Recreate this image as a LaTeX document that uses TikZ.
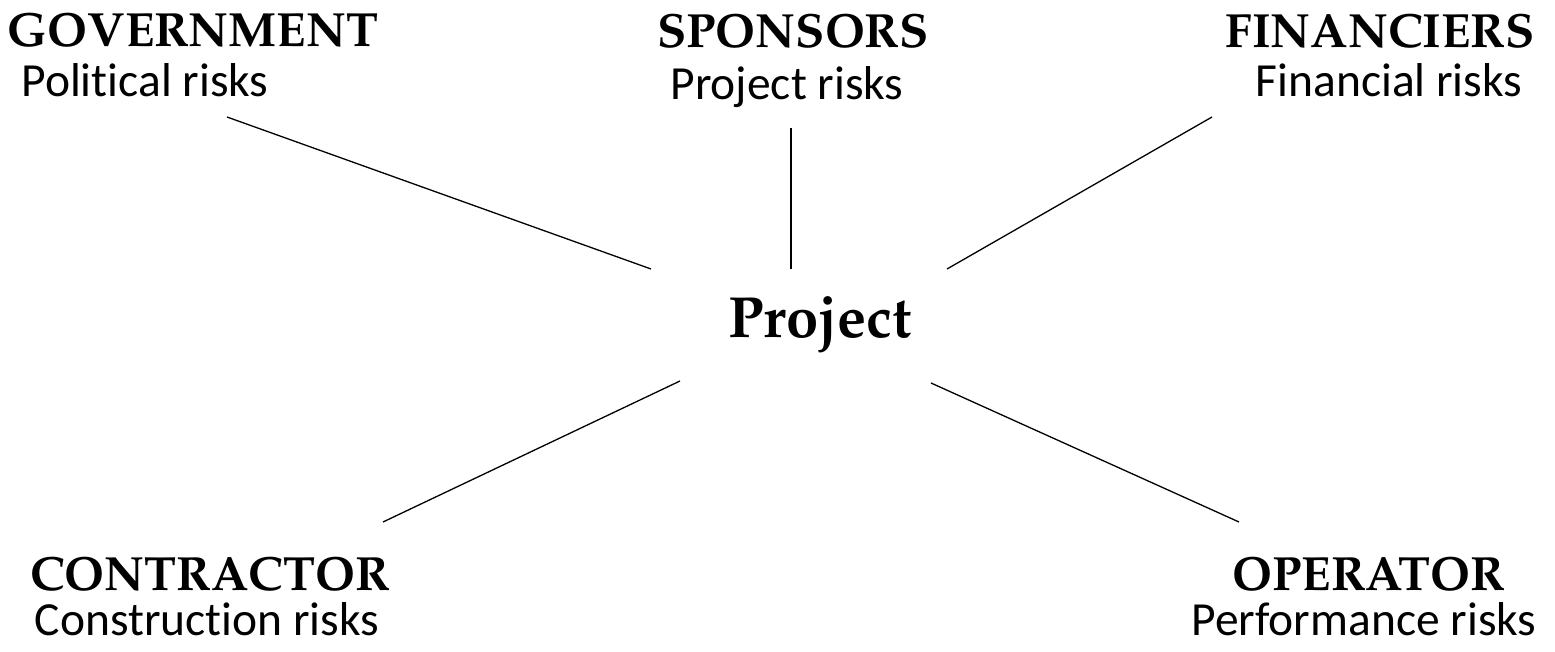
\documentclass[tikz,border=0pt]{standalone}
\usepackage[T1]{fontenc}
\usepackage{fontspec}
\setsansfont{Carlito}[Ligatures=NoCommon]
\usepackage{tikz}

\tikzset{
  party/.style={anchor=base, inner sep=0pt,
    font=\fontencoding{T1}\fontfamily{ppl}\fontseries{b}\fontsize{48}{50}\selectfont},
  risk/.style={anchor=base, inner sep=0pt, font=\sffamily\fontsize{47.5}{50}\selectfont},
  link/.style={line width=1.3pt, black}
}

\begin{document}
\begin{tikzpicture}[x=1pt, y=-1pt]

% Page
\useasboundingbox (0,0) rectangle (1555,652);

% Centre
\node[party, font=\fontencoding{T1}\fontfamily{ppl}\fontseries{b}\fontsize{58}{60}\selectfont]
  (project) at (820,337) {Project};

% Parties and their risks
\node[party] (gov) at (193,47) {GOVERNMENT};
\node[risk] (govrisk) at (145,97) {Political risks};

\node[party] (spon) at (793,48) {SPONSORS};
\node[risk] (sponrisk) at (787,100) {Project risks};

\node[party] (fin) at (1380,48) {FINANCIERS};
\node[risk] (finrisk) at (1389,97) {Financial risks};

\node[party] (con) at (210,590) {CONTRACTOR};
\node[risk] (conrisk) at (207,635) {Construction risks};

\node[party] (op) at (1369,590) {OPERATOR};
\node[risk] (oprisk) at (1364,635) {Performance risks};

% Line ends
\coordinate (govend) at (227,117);
\coordinate (govhub) at (651,269);
\coordinate (sponend) at (791,128);
\coordinate (sponhub) at (791,269);
\coordinate (finend) at (1212,117);
\coordinate (finhub) at (947,269);
\coordinate (conend) at (383,522);
\coordinate (conhub) at (680,381);
\coordinate (opend) at (1239,522);
\coordinate (ophub) at (931,383);

% Links
\foreach \a/\b in {govend/govhub, sponend/sponhub, finend/finhub, conend/conhub, opend/ophub}{
  \draw[link] (\a) -- (\b);
}

\end{tikzpicture}
\end{document}
